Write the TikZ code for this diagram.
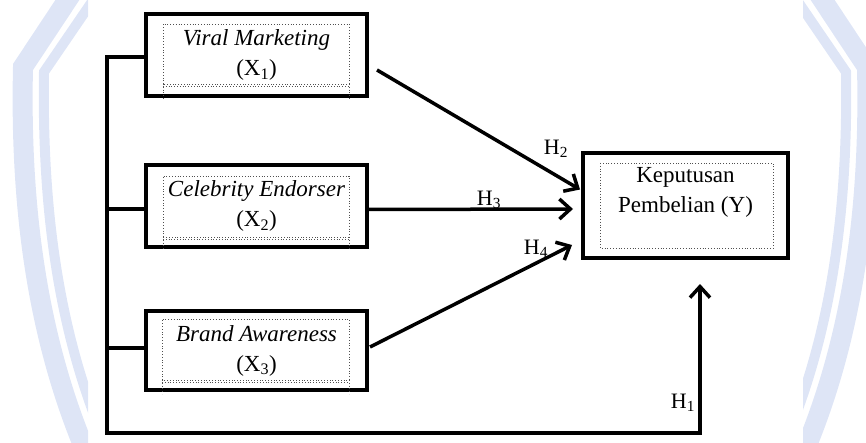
\documentclass[tikz,border=0pt]{standalone}
\usepackage{fontspec}
\setmainfont{Liberation Serif}
\usetikzlibrary{arrows.meta,calc}
\definecolor{wm}{RGB}{222,229,246}
\definecolor{dotc}{RGB}{80,80,80}
\tikzset{
  varbox/.style={draw=black, line width=4pt, minimum width=221pt, minimum height=82pt, inner sep=0pt, align=center, font=\fontsize{23}{30}\selectfont},
  ybox/.style={draw=black, line width=4pt, minimum width=205pt, minimum height=105pt, inner sep=0pt},
  txt/.style={align=center, inner sep=0pt, font=\fontsize{23}{30}\selectfont},
  dotbox/.style={draw=dotc, line width=0.8pt, dotted},
  conn/.style={line width=3.5pt, -{Straight Barb[length=11pt,width=20pt,line width=3.5pt]}},
  busline/.style={line width=3.5pt},
  hlab/.style={font=\fontsize{22}{24}\selectfont, inner sep=0pt},
  wmband/.style={wm, line width=#1}
}
\begin{document}
\begin{tikzpicture}[x=1pt,y=-1pt]
\useasboundingbox (0,0) rectangle (866,443);
% watermark
\begin{scope}
  \clip (0,0) rectangle (88,443);
  \draw[wmband=20pt] (74,-10) -- (23,67) .. controls (20,200) and (35,330) .. (85,450);
  \draw[wmband=10pt] (100,-10) -- (44,72) .. controls (42,200) and (56,320) .. (100,430);
\end{scope}
\begin{scope}
  \clip (803,0) rectangle (866,443);
  \begin{scope}[shift={(890,0)}, xscale=-1]
    \draw[wmband=20pt] (74,-10) -- (23,67) .. controls (20,200) and (35,330) .. (85,450);
    \draw[wmband=10pt] (100,-10) -- (44,72) .. controls (42,200) and (56,320) .. (100,430);
  \end{scope}
\end{scope}
% boxes
\node[varbox] (x1) at (256.5,55) {\textit{Viral Marketing}\\(X\textsubscript{1})};
\node[varbox] (x2) at (256.5,206) {\textit{Celebrity Endorser}\\(X\textsubscript{2})};
\node[varbox, minimum height=79pt] (x3) at (256.5,350.5) {\textit{Brand Awareness}\\(X\textsubscript{3})};
\node[ybox] (y) at (685.5,205.5) {};
\node[txt] (ytxt) at (685.5,192) {Keputusan\\Pembelian (Y)};
% dotted inner frames
\draw[dotbox] (163,84) -- (163,24) -- (349,24) -- (349,84) -- cycle;
\draw[dotbox] (163,86) -- (349,86);
\draw[dotbox] (163,84) -- (163,100) (349,84) -- (349,100);
\draw[dotbox] (163,237) -- (163,176) -- (349,176) -- (349,237) -- cycle;
\draw[dotbox] (163,239) -- (349,239);
\draw[dotbox] (163,237) -- (163,250) (349,237) -- (349,250);
\draw[dotbox] (162,380) -- (162,319) -- (349,319) -- (349,380) -- cycle;
\draw[dotbox] (162,382) -- (349,382);
\draw[dotbox] (162,380) -- (162,394) (349,380) -- (349,394);
\draw[dotbox] (600,163) rectangle (773,248);
% bus and H1
\coordinate (bus) at (107,433);
\coordinate (s1) at ([yshift=-2pt]x1.west);
\coordinate (s2) at ([yshift=-3pt]x2.west);
\coordinate (s3) at ([yshift=2.5pt]x3.west);
\coordinate (t1) at ([xshift=14.5pt,yshift=-24pt]y.south);
\draw[conn] (s1) -| (bus) -| (t1);
\draw[busline] (s2) -- (bus |- s2);
\draw[busline] (s3) -- (bus |- s3);
% arrows
\draw[conn] ([xshift=8pt,yshift=-15pt]x1.east) -- ([xshift=-1pt,yshift=16pt]y.west);
\draw[conn] ([yshift=-3.5pt]x2.east) -- ([xshift=-8pt,yshift=-3.5pt]y.west);
\draw[conn] ([xshift=1pt,yshift=3.5pt]x3.east) -- ([xshift=-9pt,yshift=-39.5pt]y.west);
% labels
\node[hlab] (h2) at (556,149) {H\textsubscript{2}};
\node[hlab] (h3) at (489,200) {H\textsubscript{3}};
\node[hlab] (h4) at (536,249) {H\textsubscript{4}};
\node[hlab] (h1) at (683,403) {H\textsubscript{1}};
\end{tikzpicture}
\end{document}
